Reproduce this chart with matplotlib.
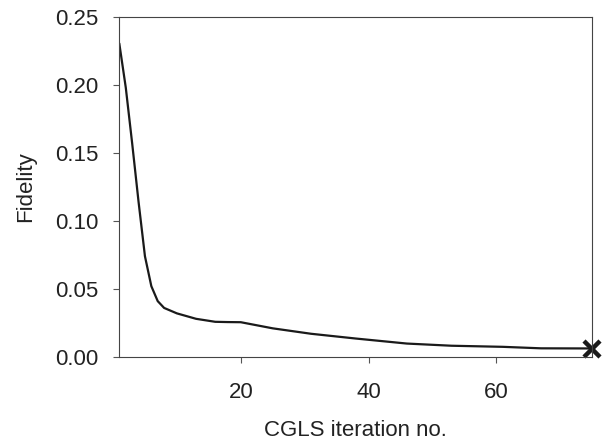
import numpy as np
import matplotlib.pyplot as plt

plt.rcParams['font.family'] = ['Liberation Sans', 'DejaVu Sans']

# CGLS convergence, values
iteration = [1, 2, 3, 4, 5, 6, 7, 8, 10, 13, 16, 18, 20, 25, 31, 38, 46, 53, 61, 67, 75]
fidelity = [0.230, 0.198, 0.157, 0.114, 0.074, 0.052, 0.041, 0.036, 0.032, 0.028,
            0.0258, 0.0256, 0.0255, 0.021, 0.017, 0.0135, 0.0098, 0.0082, 0.0074,
            0.0063, 0.0062]
final_iter = [75]
final_fid = [0.0055]
xticks = [20, 40, 60]
yticks = [0.00, 0.05, 0.10, 0.15, 0.20, 0.25]

tickFont = {'size': 16, 'color': '#222222'}
labelFont = {'size': 16, 'color': '#222222'}

fig = plt.figure(figsize=(6.03, 4.45), dpi=100)
ax = fig.add_axes([0.198, 0.198, 0.784, 0.764])

ax.plot(iteration, fidelity, color='#1a1a1a', linewidth=1.6)
ax.plot(final_iter, final_fid, 'x', color='#1a1a1a', ms=11, mew=3.2, clip_on=False)

ax.set_xlim(1, 75)
ax.set_ylim(0, 0.25)
ax.set_xticks(xticks)
ax.set_yticks(yticks)
ax.set_yticklabels(['%.2f' % v for v in yticks], **tickFont)
ax.set_xticklabels([str(v) for v in xticks], **tickFont)
ax.tick_params(axis='y', direction='out', length=4, width=0.8, color='#555555', pad=11)
ax.tick_params(axis='x', direction='out', length=4, width=0.8, color='#555555', pad=14)
for s in ax.spines.values():
    s.set_color('#444444')
    s.set_linewidth(0.8)

ax.set_xlabel('CGLS iteration no.', labelpad=12, **labelFont)
ax.set_ylabel('Fidelity', labelpad=14, **labelFont)

plt.savefig('out.png', dpi=100)
